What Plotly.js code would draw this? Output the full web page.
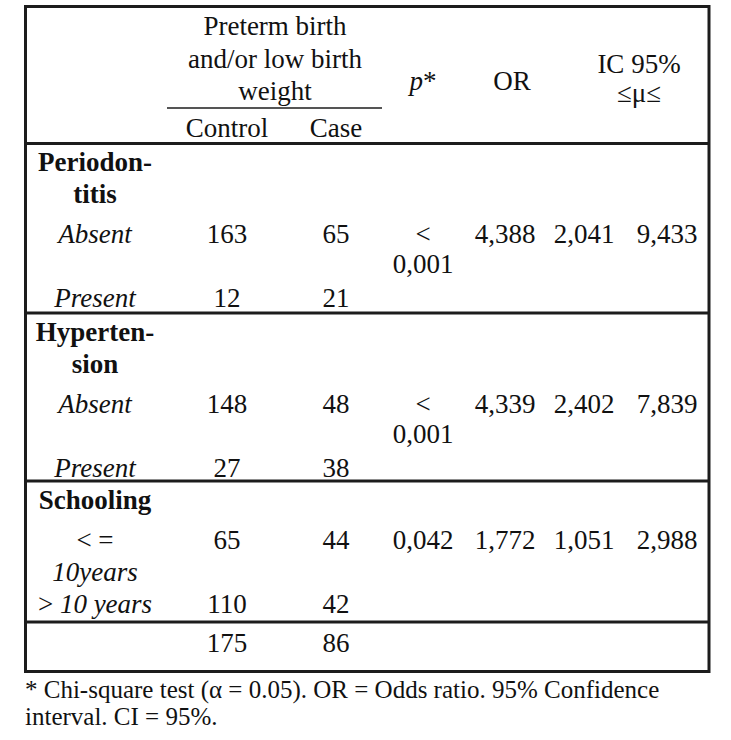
<!DOCTYPE html>
<html>
<head>
<meta charset="utf-8">
<script src="https://cdn.plot.ly/plotly-3.0.1.min.js"></script>
<style>html,body{margin:0;padding:0;background:#fff;}</style>
</head>
<body>
<div id="chart" style="width:731px;height:740px;"></div>
<script>
// ---------------- DATA ----------------
const headerSpanLines = ['Preterm birth', 'and/or low birth', 'weight'];
const headerSubCols = ['Control', 'Case'];
const headerP = '<i>p</i>*';
const headerOR = 'OR';
const headerCILines = ['IC 95%', '≤μ≤'];

const groupLines = [['Periodon-', 'titis'], ['Hyperten-', 'sion'], ['Schooling']];
const levelLabels = [
  [['<i>Absent</i>'], ['<i>Present</i>']],
  [['<i>Absent</i>'], ['<i>Present</i>']],
  [['&lt; =', '<i>10years</i>'], ['&gt; <i>10 years</i>']]
];
const controlCounts = [[163, 12], [148, 27], [65, 110]];
const caseCounts = [[65, 21], [48, 38], [44, 42]];
const pValues = [0.001, 0.001, 0.042];
const pIsBound = [true, true, false];
const oddsRatios = [4.388, 4.339, 1.772];
const ciLower = [2.041, 2.402, 1.051];
const ciUpper = [9.433, 7.839, 2.988];
const totals = [175, 86];
const footnoteLines = ['* Chi-square test (α = 0.05). OR = Odds ratio. 95% Confidence', 'interval. CI = 95%.'];

// ---------------- LAYOUT CONSTANTS ----------------
const W = 731, H = 740;
const FONT = '"Liberation Serif", "Times New Roman", serif';
const FS = 27;
const INK = '#111111';
const RULE = '#1c1c1c';
const COL = {label: 95, span: 275, control: 227, caseN: 336, p: 423, orH: 512, or: 505, ciH: 639, lo: 584, hi: 667};
const TABLE = {x0: 25.5, x1: 709, y0: 6.5, y1: 671.5};
const headerRule = 143.5;
const spanRule = {x0: 167, x1: 382, y: 108};
const sectionTops = [143.5, 313, 481];
const totalRuleY = 622;
const DY = 3; // optical offset of text
const LINE = 32, WRAP = 32, ROWSTEP = 64, FIRST = 18, LEVELGAP = 40;

const fmt = v => v.toFixed(3).replace('.', ',');

// ---------------- BUILD CELLS ----------------
function col() { return {x: [], y: [], text: []}; }
const cells = {head: col(), label: col(), control: col(), caseN: col(), p: col(), or: col(), lo: col(), hi: col()};
function put(c, x, y, t) { c.x.push(x); c.y.push(y + DY); c.text.push(String(t)); }

// header
const headY = [25, 58, 90];
headerSpanLines.forEach((t, i) => put(cells.head, COL.span, headY[i], t));
put(cells.head, COL.control, 127, headerSubCols[0]);
put(cells.head, COL.caseN, 127, headerSubCols[1]);
put(cells.head, COL.p, 80, headerP);
put(cells.head, COL.orH, 80, headerOR);
put(cells.head, COL.ciH, 63, headerCILines[0]);
put(cells.head, COL.ciH, 92, headerCILines[1]);

// body
groupLines.forEach((g, s) => {
  let y = sectionTops[s] + FIRST;
  g.forEach(line => { put(cells.label, COL.label, y, '<b>' + line + '</b>'); y += LINE; });
  const row1 = y - LINE + LEVELGAP;
  levelLabels[s].forEach((lv, j) => {
    const ry = row1 + j * ROWSTEP;
    lv.forEach((t, k) => put(cells.label, COL.label, ry + k * WRAP, t));
    put(cells.control, COL.control, ry, controlCounts[s][j]);
    put(cells.caseN, COL.caseN, ry, caseCounts[s][j]);
    if (j === 0) {
      if (pIsBound[s]) {
        put(cells.p, COL.p, ry, '&lt;');
        put(cells.p, COL.p, ry + WRAP - 2, fmt(pValues[s]));
      } else {
        put(cells.p, COL.p, ry, fmt(pValues[s]));
      }
      put(cells.or, COL.or, ry, fmt(oddsRatios[s]));
      put(cells.lo, COL.lo, ry, fmt(ciLower[s]));
      put(cells.hi, COL.hi, ry, fmt(ciUpper[s]));
    }
  });
});
// totals
put(cells.control, COL.control, totalRuleY + 20, totals[0]);
put(cells.caseN, COL.caseN, totalRuleY + 20, totals[1]);

const traces = Object.keys(cells).map(k => ({
  type: 'scatter', mode: 'text', x: cells[k].x, y: cells[k].y, text: cells[k].text,
  textposition: 'middle center', hoverinfo: 'skip',
  textfont: {family: FONT, size: FS, color: INK}, cliponaxis: false, showlegend: false
}));

// ---------------- SHAPES ----------------
const shapes = [];
shapes.push({type: 'rect', xref: 'x', yref: 'y', x0: TABLE.x0, x1: TABLE.x1, y0: TABLE.y0, y1: TABLE.y1, line: {color: RULE, width: 3}});
shapes.push({type: 'line', xref: 'x', yref: 'y', x0: spanRule.x0, x1: spanRule.x1, y0: spanRule.y, y1: spanRule.y, line: {color: RULE, width: 1.5}});
[headerRule, sectionTops[1], sectionTops[2], totalRuleY].forEach(y => {
  shapes.push({type: 'line', xref: 'x', yref: 'y', x0: TABLE.x0, x1: TABLE.x1, y0: y, y1: y, line: {color: RULE, width: 3}});
});

const annotations = footnoteLines.map((t, i) => ({
  xref: 'x', yref: 'y', x: 23, y: 690 + i * 26, text: t, showarrow: false,
  xanchor: 'left', yanchor: 'middle', font: {family: FONT, size: 25, color: INK}
}));

const layout = {
  width: W, height: H, margin: {l: 0, r: 0, t: 0, b: 0},
  paper_bgcolor: '#ffffff', plot_bgcolor: '#ffffff',
  xaxis: {range: [0, W], visible: false, fixedrange: true},
  yaxis: {range: [H, 0], visible: false, fixedrange: true},
  shapes: shapes, annotations: annotations, showlegend: false
};

Plotly.newPlot('chart', traces, layout, {staticPlot: true, displayModeBar: false});
</script>
</body>
</html>
